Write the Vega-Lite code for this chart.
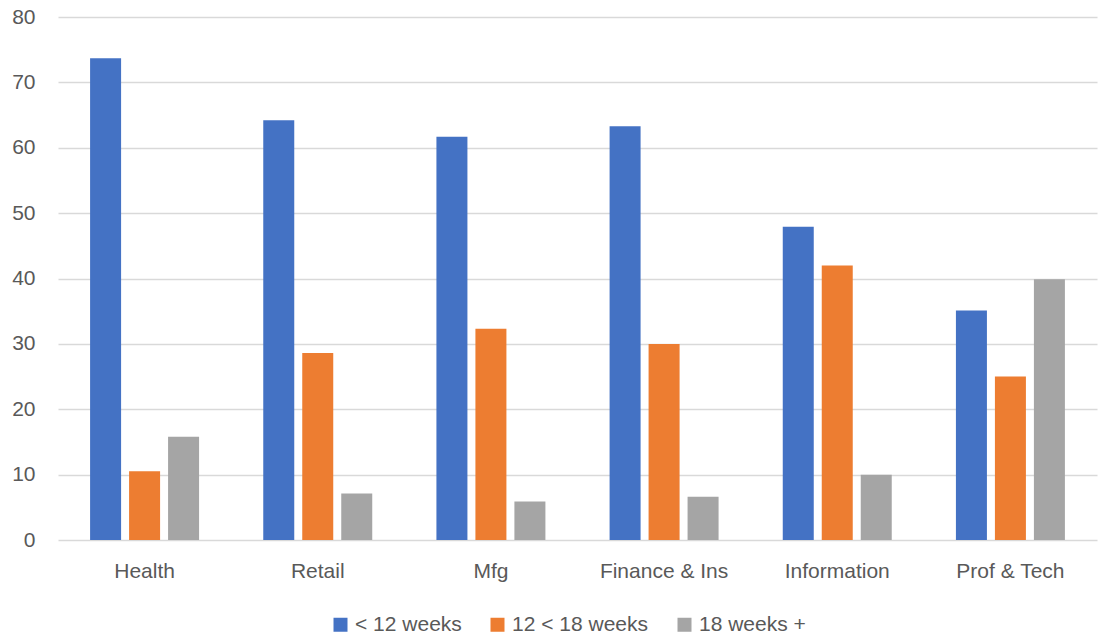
{
  "$schema": "https://vega.github.io/schema/vega-lite/v6.json",
  "width": 1039,
  "height": 523,
  "autosize": {"type": "none"},
  "padding": {"left": 58, "top": 17, "right": 3, "bottom": 99},
  "background": "white",
  "data": {
    "values": [
      {"industry": "Health", "series": "< 12 weeks", "value": 73.7},
      {"industry": "Health", "series": "12 < 18 weeks", "value": 10.5},
      {"industry": "Health", "series": "18 weeks +", "value": 15.8},
      {"industry": "Retail", "series": "< 12 weeks", "value": 64.2},
      {"industry": "Retail", "series": "12 < 18 weeks", "value": 28.6},
      {"industry": "Retail", "series": "18 weeks +", "value": 7.1},
      {"industry": "Mfg", "series": "< 12 weeks", "value": 61.7},
      {"industry": "Mfg", "series": "12 < 18 weeks", "value": 32.3},
      {"industry": "Mfg", "series": "18 weeks +", "value": 5.9},
      {"industry": "Finance & Ins", "series": "< 12 weeks", "value": 63.3},
      {"industry": "Finance & Ins", "series": "12 < 18 weeks", "value": 30.0},
      {"industry": "Finance & Ins", "series": "18 weeks +", "value": 6.6},
      {"industry": "Information", "series": "< 12 weeks", "value": 47.9},
      {"industry": "Information", "series": "12 < 18 weeks", "value": 42.0},
      {"industry": "Information", "series": "18 weeks +", "value": 10.0},
      {"industry": "Prof & Tech", "series": "< 12 weeks", "value": 35.1},
      {"industry": "Prof & Tech", "series": "12 < 18 weeks", "value": 25.0},
      {"industry": "Prof & Tech", "series": "18 weeks +", "value": 39.9}
    ]
  },
  "mark": {"type": "bar"},
  "encoding": {
    "x": {
      "field": "industry",
      "type": "nominal",
      "sort": ["Health", "Retail", "Mfg", "Finance & Ins", "Information", "Prof & Tech"],
      "scale": {"paddingInner": 0, "paddingOuter": 0},
      "axis": {
        "title": null,
        "labelAngle": 0,
        "domain": false,
        "ticks": false,
        "labelPadding": 20,
        "labelFont": "Liberation Sans",
        "labelFontSize": 21,
        "labelColor": "#595959"
      }
    },
    "xOffset": {
      "field": "series",
      "type": "nominal",
      "sort": ["< 12 weeks", "12 < 18 weeks", "18 weeks +"],
      "scale": {"paddingInner": 0.205, "paddingOuter": 0.823}
    },
    "y": {
      "field": "value",
      "type": "quantitative",
      "scale": {"domain": [0, 80]},
      "axis": {
        "title": null,
        "values": [0, 10, 20, 30, 40, 50, 60, 70, 80],
        "domain": false,
        "ticks": false,
        "labelPadding": 23,
        "labelFont": "Liberation Sans",
        "labelFontSize": 21,
        "labelColor": "#595959",
        "gridColor": "#D9D9D9",
        "gridWidth": 1.3
      }
    },
    "color": {
      "field": "series",
      "type": "nominal",
      "sort": ["< 12 weeks", "12 < 18 weeks", "18 weeks +"],
      "scale": {
        "domain": ["< 12 weeks", "12 < 18 weeks", "18 weeks +"],
        "range": ["#4472C4", "#ED7D31", "#A5A5A5"]
      },
      "legend": {
        "title": null,
        "orient": "none",
        "direction": "horizontal",
        "legendX": 272,
        "legendY": 597,
        "padding": 0,
        "symbolType": "square",
        "symbolSize": 196,
        "symbolStrokeWidth": 0,
        "symbolOpacity": 1,
        "labelOffset": 4,
        "columnPadding": 25,
        "labelFont": "Liberation Sans",
        "labelFontSize": 21,
        "labelColor": "#595959"
      }
    }
  },
  "config": {
    "view": {"stroke": null}
  }
}
